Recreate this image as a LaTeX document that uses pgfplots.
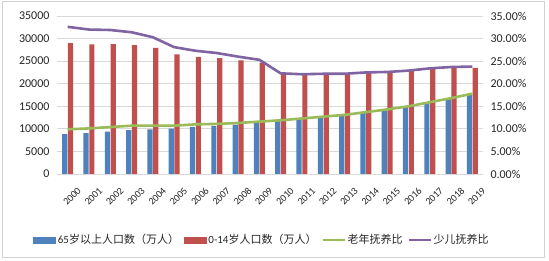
\documentclass[border=0pt]{standalone}
\usepackage{pgfplots}
\pgfplotsset{compat=1.18}
\usepackage{fontspec}
\setmainfont{Carlito}
\newfontfamily\cjk{Noto Sans CJK SC}
\definecolor{cblue}{HTML}{4F81BD}
\definecolor{cred}{HTML}{C0504D}
\definecolor{cgreen}{HTML}{9BBB59}
\definecolor{cpurple}{HTML}{8064A2}
\definecolor{cgrid}{HTML}{D9D9D9}
\definecolor{ctext}{HTML}{262626}
\begin{document}
\begin{tikzpicture}[x=1pt,y=1pt]
\useasboundingbox (-57,-87) rectangle (492,174);
\fill[white] (-57,-87) rectangle (492,174);
\draw[gray!35, line width=0.8pt] (-55,-83) rectangle (487,173);
\begin{axis}[
  at={(0,0)}, anchor=south west,
  scale only axis, width=426pt, height=158pt,
  xmin=-0.5, xmax=19.5, ymin=0, ymax=35000,
  ybar=0.6pt, bar width=5.2pt,
  xtick={0,...,19},
  xticklabels={2000,2001,2002,2003,2004,2005,2006,2007,2008,2009,2010,2011,2012,2013,2014,2015,2016,2017,2018,2019},
  xticklabel style={rotate=45, anchor=east, font=\fontsize{10}{11}\selectfont, text=ctext, yshift=-19pt, xshift=1pt},
  ytick={0,5000,...,35000},
  yticklabel style={font=\fontsize{12}{13}\selectfont, text=ctext, xshift=-4pt},
  /pgf/number format/assume math mode=true,
  /pgf/number format/1000 sep={},
  scaled y ticks=false,
  ymajorgrids, grid style={cgrid, line width=0.8pt},
  major tick length=0pt,
  axis line style={draw=none},
  axis x line*=bottom, axis y line*=left,
]
\addplot[fill=cblue, draw=none] coordinates {
(0,8821)(1,9062)(2,9377)(3,9692)(4,9857)(5,10055)(6,10419)(7,10636)(8,10956)(9,11307)
(10,11894)(11,12288)(12,12714)(13,13161)(14,13755)(15,14386)(16,15003)(17,15831)(18,16658)(19,17603)};
\addplot[fill=cred, draw=none] coordinates {
(0,29012)(1,28716)(2,28774)(3,28559)(4,27947)(5,26504)(6,25961)(7,25660)(8,25166)(9,24659)
(10,22259)(11,22164)(12,22287)(13,22329)(14,22558)(15,22715)(16,23008)(17,23348)(18,23523)(19,23492)};
\end{axis}
\begin{axis}[
  at={(0,0)}, anchor=south west,
  scale only axis, width=426pt, height=158pt,
  xmin=-0.5, xmax=19.5, ymin=0, ymax=35,
  xtick=\empty,
  ytick={0,5,...,35},
  axis y line*=right, axis x line=none,
  axis line style={draw=none},
  major tick length=0pt,
  yticklabel={\pgfmathprintnumber[fixed,fixed zerofill,precision=2,assume math mode=true]{\tick}\%},
  yticklabel style={font=\fontsize{12}{13}\selectfont, text=ctext, xshift=4pt},
  legend columns=4,
  legend style={at={(205pt,-66pt)}, anchor=center, draw=none, fill=none,
    font=\fontsize{11}{12}\selectfont, text=ctext,
    /tikz/every even column/.append style={column sep=3pt}},
]
\addlegendimage{legend image code/.code={\fill[cblue] (0pt,-2.8pt) rectangle (22pt,2.8pt);}}
\addlegendentry{65{\cjk 岁以上人口数（万人）}}
\addlegendimage{legend image code/.code={\fill[cred] (0pt,-2.8pt) rectangle (22pt,2.8pt);}}
\addlegendentry{0-14{\cjk 岁人口数（万人）}}
\addplot[cgreen, line width=2.6pt, line join=round, legend image code/.code={\draw[cgreen, line width=2pt] (0pt,0pt) -- (22pt,0pt);}] coordinates {
(0,9.9)(1,10.1)(2,10.4)(3,10.7)(4,10.7)(5,10.7)(6,11.0)(7,11.1)(8,11.3)(9,11.6)
(10,11.9)(11,12.3)(12,12.7)(13,13.1)(14,13.7)(15,14.3)(16,15.0)(17,15.9)(18,16.8)(19,17.8)};
\addlegendentry{{\cjk 老年抚养比}}
\addplot[cpurple, line width=2.6pt, line join=round, legend image code/.code={\draw[cpurple, line width=2pt] (0pt,0pt) -- (22pt,0pt);}] coordinates {
(0,32.6)(1,32.0)(2,31.9)(3,31.4)(4,30.3)(5,28.1)(6,27.3)(7,26.8)(8,26.0)(9,25.3)
(10,22.3)(11,22.1)(12,22.2)(13,22.2)(14,22.5)(15,22.6)(16,22.9)(17,23.4)(18,23.7)(19,23.8)};
\addlegendentry{{\cjk 少儿抚养比}}
\end{axis}
\end{tikzpicture}
\end{document}
